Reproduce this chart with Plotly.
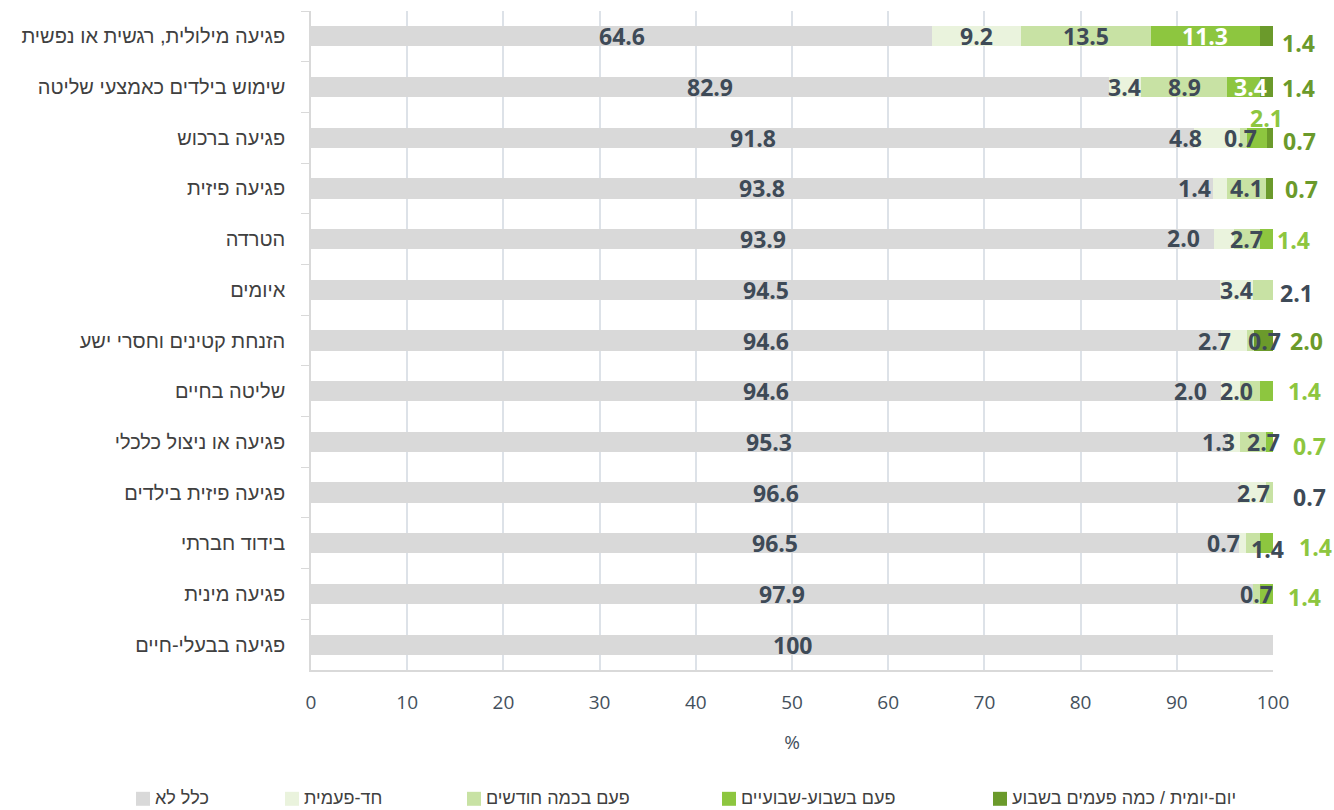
import plotly.graph_objects as go

categories = [
    "פגיעה מילולית, רגשית או נפשית",
    "שימוש בילדים כאמצעי שליטה",
    "פגיעה ברכוש",
    "פגיעה פיזית",
    "הטרדה",
    "איומים",
    "הזנחת קטינים וחסרי ישע",
    "שליטה בחיים",
    "פגיעה או ניצול כלכלי",
    "פגיעה פיזית בילדים",
    "בידוד חברתי",
    "פגיעה מינית",
    "פגיעה בבעלי-חיים",
]
series_names = [
    "כלל לא",
    "חד-פעמית",
    "פעם בכמה חודשים",
    "פעם בשבוע-שבועיים",
    "יום-יומית / כמה פעמים בשבוע",
]
never = [64.6, 82.9, 91.8, 93.8, 93.9, 94.5, 94.6, 94.6, 95.3, 96.6, 96.5, 97.9, 100]
once = [9.2, 3.4, 4.8, 1.4, 2.0, 3.4, 2.7, 2.0, 1.3, 2.7, 0.7, 0, 0]
months = [13.5, 8.9, 0.7, 4.1, 2.7, 2.1, 0.7, 2.0, 2.7, 0.7, 1.4, 0.7, 0]
weekly = [11.3, 3.4, 2.1, 0, 1.4, 0, 0, 1.4, 0.7, 0, 1.4, 1.4, 0]
daily = [1.4, 1.4, 0.7, 0.7, 0, 0, 2.0, 0, 0, 0, 0, 0, 0]
x_ticks = [0, 10, 20, 30, 40, 50, 60, 70, 80, 90, 100]

series_values = [never, once, months, weekly, daily]
colors = ["#d9d9d9", "#eaf3dd", "#c8e2a4", "#8dc63f", "#6b9a2b"]
slate = "#3e4a57"

# label pixel offsets (xshift, yshift) relative to segment centre
label_shift = {
    (0, 4): (32, -7),
    (1, 3): (7, 0), (1, 4): (32, -1),
    (2, 1): (-32, 0), (2, 2): (-3, 0), (2, 3): (9, 20), (2, 4): (29, -3),
    (3, 1): (-26, 0), (3, 4): (32, -1),
    (4, 1): (-40, 1), (4, 3): (27, -1),
    (5, 2): (34, -3),
    (6, 1): (-20, 0), (6, 2): (14, 0), (6, 4): (43, 0),
    (7, 1): (-40, 0), (7, 2): (-13, 0), (7, 3): (38, 0),
    (8, 1): (-16, 0), (8, 2): (10, 0), (8, 3): (40, -4),
    (9, 2): (40, -4),
    (10, 1): (-19, 0), (10, 2): (15, -6), (10, 3): (49, -4),
    (11, 3): (38, -3),
}

fig = go.Figure()
for name, vals, col in zip(series_names, series_values, colors):
    fig.add_trace(go.Bar(
        y=categories, x=vals, name=name, orientation="h",
        marker=dict(color=col, line=dict(width=0)),
        showlegend=False, hoverinfo="skip",
    ))

annotations = []
for r, cat in enumerate(categories):
    cum = 0.0
    for s, vals in enumerate(series_values):
        v = vals[r]
        if v <= 0:
            continue
        centre = cum + v / 2
        cum += v
        txt = "100" if v >= 100 else f"{v:.1f}"
        if s <= 2:
            c = slate
        elif s == 3:
            c = "white" if v >= 3 else "#8dc63f"
        else:
            c = "#6b9a2b"
        dx, dy = label_shift.get((r, s), (0, 0))
        annotations.append(dict(
            x=centre, y=cat, xref="x", yref="y", text=txt, showarrow=False,
            xshift=dx, yshift=dy,
            font=dict(family="Open Sans", size=23, color=c, weight="bold"),
        ))

# custom legend (square left of text)
leg_sq_px = [136, 285, 467, 722, 993]
plot_l, plot_w, plot_b, plot_h = 311, 962, 670, 660
shapes = []
for name, col, px in zip(series_names, colors, leg_sq_px):
    x0 = (px - plot_l) / plot_w
    x1 = (px + 14 - plot_l) / plot_w
    y0 = (plot_b - 806) / plot_h
    y1 = (plot_b - 792) / plot_h
    shapes.append(dict(type="rect", xref="paper", yref="paper", x0=x0, x1=x1,
                       y0=y0, y1=y1, fillcolor=col, line=dict(width=0)))
    annotations.append(dict(
        x=(px + 17 - plot_l) / plot_w, y=(plot_b - 798) / plot_h,
        xref="paper", yref="paper", xanchor="left", yanchor="middle",
        text=name, showarrow=False,
        font=dict(family="Liberation Sans", size=18, color="#404040"),
    ))

fig.update_layout(
    barmode="stack",
    bargap=0.6,
    width=1334, height=810,
    margin=dict(l=311, r=61, t=11, b=140),
    plot_bgcolor="white", paper_bgcolor="white",
    annotations=annotations,
    shapes=shapes,
    xaxis=dict(
        range=[0, 100], tickvals=x_ticks, ticktext=[str(t) for t in x_ticks],
        showgrid=True, gridcolor="#dde2e8", gridwidth=1.5,
        zeroline=False, showline=True, linecolor="#d9d9d9", linewidth=1.5,
        ticks="", ticklabelstandoff=14,
        tickfont=dict(family="Open Sans", size=19, color="#44505c"),
        title=dict(text="%", font=dict(family="Open Sans", size=19, color="#44505c"), standoff=22),
    ),
    yaxis=dict(
        type="category", autorange="reversed",
        tickson="boundaries", ticks="outside", ticklen=8, tickcolor="#d9d9d9",
        showline=True, linecolor="#d9d9d9", linewidth=1.5,
        showgrid=False, ticklabelstandoff=20,
        tickfont=dict(family="Liberation Sans", size=20, color="#404040"),
    ),
)

fig.write_html(
    "out.html",
    config={"displayModeBar": False},
    post_script="document.body.style.margin='0';document.body.style.overflow='hidden';",
)
